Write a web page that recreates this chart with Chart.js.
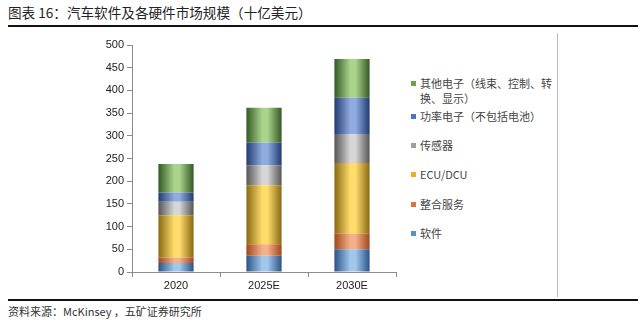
<!DOCTYPE html>
<html>
<head>
<meta charset="utf-8">
<script src="https://cdn.jsdelivr.net/npm/chart.js@4/dist/chart.umd.min.js"></script>
<style>
  body { margin: 0; background: #fff; width: 638px; height: 331px; position: relative; overflow: hidden;
         font-family: "Noto Sans CJK SC", "Liberation Sans", sans-serif; color: #333; }
  .title { position: absolute; left: 8px; top: 2px; font-size: 13.6px; color: #222; }
  .rule-top { position: absolute; left: 8px; right: 0; top: 25px; height: 2px; background: #111; }
  .rule-bottom { position: absolute; left: 8px; right: 0; top: 299px; height: 2px; background: #111; }
  .divider { position: absolute; left: 557px; top: 33px; height: 264px; width: 1px; background: #bdbdbd; }
  .source { position: absolute; left: 8px; top: 303px; font-size: 11px; color: #333; }
  #wrap { position: absolute; left: 80px; top: 35px; width: 320px; height: 257px; }
  #legend { position: absolute; left: 410px; top: 76px; font-size: 11px; line-height: 15px; color: #444; }
  #legend .item { position: absolute; left: 0; width: 13em; padding-left: 10px; }
  #legend .box { position: absolute; left: 1px; top: 5px; width: 5px; height: 5px; }
</style>
</head>
<body>
<div class="title">图表 16：汽车软件及各硬件市场规模（十亿美元）</div>
<div class="rule-top"></div>
<div id="wrap"><canvas id="market-chart"></canvas></div>
<div class="divider"></div>
<div id="legend"></div>
<div class="rule-bottom"></div>
<div class="source">资料来源：McKinsey ，五矿证券研究所</div>
<script>
const years = ['2020', '2025E', '2030E'];

// segments, bottom to top
const software = [20, 36, 50];
const services = [12, 25, 34];
const ecu = [93, 130, 156];
const sensors = [30, 44, 64];
const power = [20, 50, 80];
const otherElec = [63, 77, 85];

const yTicks = [0, 50, 100, 150, 200, 250, 300, 350, 400, 450, 500];

const series = [
    { label: '软件', data: software, light: '#a3c7ec', dark: '#2b5486', key: '#5b8fcf' },
    { label: '整合服务', data: services, light: '#f4b08a', dark: '#a2471b', key: '#d7743f' },
    { label: 'ECU/DCU', data: ecu, light: '#ffdc6c', dark: '#8a6a14', key: '#e3b232' },
    { label: '传感器', data: sensors, light: '#d6d6d6', dark: '#575757', key: '#9e9e9e' },
    { label: '功率电子（不包括电池）', data: power, light: '#90abe0', dark: '#223c72', key: '#4f72b8' },
    { label: '其他电子（线束、控制、转换、显示）', data: otherElec, light: '#aad48c', dark: '#365a26', key: '#6aa34c' }
];

const BAR_W = 35;

// cylinder-like shading across each bar
function shade(s) {
    return (ctx) => {
        const chart = ctx.chart;
        const xs = chart.scales.x;
        if (!chart.chartArea || !xs) return s.light;
        const cx = xs.getPixelForValue(ctx.dataIndex);
        const g = chart.ctx.createLinearGradient(cx - BAR_W / 2, 0, cx + BAR_W / 2, 0);
        g.addColorStop(0, s.dark);
        g.addColorStop(0.45, s.light);
        g.addColorStop(0.6, s.light);
        g.addColorStop(1, s.dark);
        return g;
    };
}

const axisColor = '#8c8c8c';
const tickFont = { family: 'Liberation Sans, Arial, sans-serif', size: 11 };

new Chart(document.getElementById('market-chart'), {
    type: 'bar',
    data: {
        labels: years,
        datasets: series.map(s => ({
            label: s.label,
            data: s.data,
            backgroundColor: shade(s),
            borderWidth: 0,
            categoryPercentage: 1,
            barPercentage: 0.4
        }))
    },
    options: {
        responsive: true,
        maintainAspectRatio: false,
        animation: false,
        layout: { padding: { top: 10, right: 4, bottom: 0, left: 0 } },
        plugins: { legend: { display: false }, tooltip: { enabled: false } },
        scales: {
            x: {
                stacked: true,
                grid: { drawOnChartArea: false, tickLength: 5, color: axisColor, offset: true },
                border: { color: axisColor },
                ticks: { color: '#222', font: tickFont, padding: 2 },
                afterFit: (scale) => { scale.height = 20; }
            },
            y: {
                stacked: true,
                min: 0,
                max: 500,
                afterBuildTicks: (scale) => { scale.ticks = yTicks.map(v => ({ value: v })); },
                grid: { drawOnChartArea: false, tickLength: 5, color: axisColor },
                border: { color: axisColor },
                ticks: { color: '#222', font: tickFont, padding: 3 },
                afterFit: (scale) => { scale.width = 52; }
            }
        }
    }
});

// legend, top entry first
const legendTops = [0, 33, 62, 91, 121, 150];
const legend = document.getElementById('legend');
series.slice().reverse().forEach((s, i) => {
    const item = document.createElement('div');
    item.className = 'item';
    item.style.top = legendTops[i] + 'px';
    if (i === 0) item.style.width = '12em';
    const box = document.createElement('span');
    box.className = 'box';
    box.style.background = s.key;
    item.appendChild(box);
    item.appendChild(document.createTextNode(s.label));
    legend.appendChild(item);
});
</script>
</body>
</html>
